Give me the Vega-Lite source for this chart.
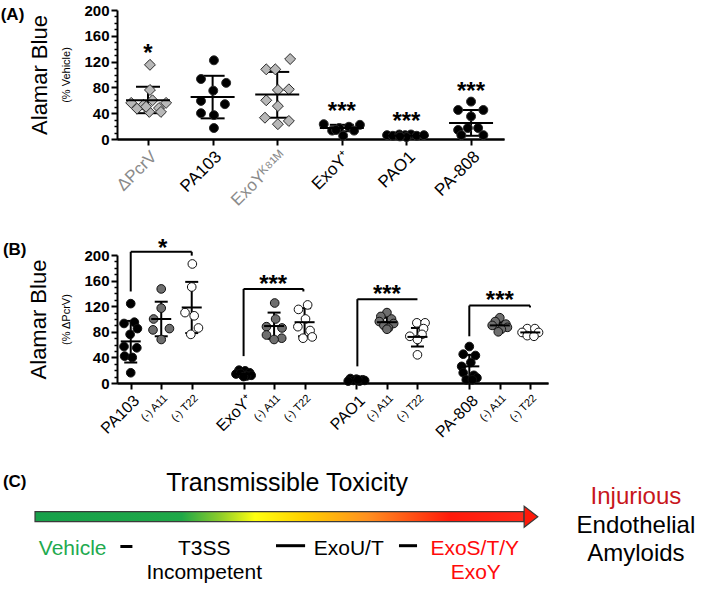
{
  "$schema": "https://vega.github.io/schema/vega-lite/v6.json",
  "background": "white",
  "padding": {"left": 0, "top": 3, "right": 0, "bottom": 0},
  "config": {
    "view": {"stroke": null},
    "font": "Liberation Sans",
    "axis": {"domainColor": "#000", "domainWidth": 2, "tickColor": "#000", "tickWidth": 2, "grid": false, "labelColor": "#000", "titleColor": "#000", "labelFont": "Liberation Sans", "titleFont": "Liberation Sans", "titleFontWeight": "normal", "labelFlush": false, "labelOverlap": false}
  },
  "bounds": "flush",
  "spacing": 116,
  "resolve": {"scale": {"fill": "independent", "shape": "independent", "size": "independent"}},
  "vconcat": [
    {
      "width": 387, "height": 129,
      "encoding": {
        "x": {"field": "x", "type": "quantitative", "scale": {"domain": [-0.48, 5.51], "nice": false, "zero": false}, "axis": null}
      },
      "layer": [
        {
          "data": {"values": [{"x": 0, "mean": 60, "lo": 40, "hi": 81}, {"x": 1, "mean": 65, "lo": 32, "hi": 98}, {"x": 2, "mean": 69, "lo": 33, "hi": 104}, {"x": 3, "mean": 17, "lo": 12, "hi": 22}, {"x": 4, "mean": 5, "lo": 4, "hi": 6}, {"x": 5, "mean": 25, "lo": 5, "hi": 45}]},
          "mark": {"type": "rule", "strokeWidth": 2, "color": "#000"},
          "encoding": {
            "x": {"field": "x", "type": "quantitative", "scale": {"domain": [-0.48, 5.51], "nice": false, "zero": false},
              "axis": {"orient": "bottom", "values": [0, 2], "labelExpr": "['ΔPcrV','PA103','ExoYᴷ⁸¹ᴹ','ExoY⁺','PAO1','PA-808'][datum.value]", "labelAngle": -45, "labelAlign": "right", "labelBaseline": "top", "labelFontSize": 17, "labelPadding": 3, "tickSize": 6, "title": null, "labelColor": "#8a8a8a"}},
            "y": {"field": "lo", "type": "quantitative", "scale": {"domain": [0, 200], "nice": false}, "axis": {"orient": "left", "title": "Alamar Blue", "labels": false, "ticks": false, "domain": false, "titleFontSize": 22, "titlePadding": 66}},
            "y2": {"field": "hi"}
          }
        },
        {
          "data": {"values": [{"x": 0, "mean": 60, "lo": 40, "hi": 81}, {"x": 1, "mean": 65, "lo": 32, "hi": 98}, {"x": 2, "mean": 69, "lo": 33, "hi": 104}, {"x": 3, "mean": 17, "lo": 12, "hi": 22}, {"x": 4, "mean": 5, "lo": 4, "hi": 6}, {"x": 5, "mean": 25, "lo": 5, "hi": 45}]},
          "transform": [{"fold": ["lo", "hi"], "as": ["k", "v"]}],
          "mark": {"type": "tick", "orient": "horizontal", "size": 24, "thickness": 2, "color": "#000", "opacity": 1},
          "encoding": {
            "y": {"field": "v", "type": "quantitative", "scale": {"domain": [0, 200], "nice": false}, "axis": {"orient": "left", "values": [10, 20, 30, 50, 60, 70, 90, 100, 110, 130, 140, 150, 170, 180, 190], "labels": false, "domain": false, "tickSize": 3, "tickWidth": 1.5, "title": null}}
          }
        },
        {
          "data": {"values": [
            {"x": 0.03, "y": 115, "kind": "diamond"}, {"x": 0.03, "y": 76, "kind": "diamond"}, {"x": 0.07, "y": 60, "kind": "diamond"}, {"x": -0.26, "y": 56, "kind": "diamond"}, {"x": -0.07, "y": 53, "kind": "diamond"}, {"x": 0.28, "y": 56, "kind": "diamond"}, {"x": -0.17, "y": 47, "kind": "diamond"}, {"x": 0.17, "y": 48, "kind": "diamond"}, {"x": 0.02, "y": 42, "kind": "diamond"}, {"x": 0.2, "y": 42, "kind": "diamond"}, {"x": -0.03, "y": 50, "kind": "diamond"},
            {"x": 1.02, "y": 122, "kind": "solid"}, {"x": 0.82, "y": 93, "kind": "solid"}, {"x": 1.21, "y": 87, "kind": "solid"}, {"x": 1.01, "y": 75, "kind": "solid"}, {"x": 0.82, "y": 59, "kind": "solid"}, {"x": 1.19, "y": 54, "kind": "solid"}, {"x": 0.82, "y": 40, "kind": "solid"}, {"x": 1.02, "y": 37, "kind": "solid"}, {"x": 1.02, "y": 17, "kind": "solid"},
            {"x": 2.2, "y": 124, "kind": "diamond"}, {"x": 1.83, "y": 108, "kind": "diamond"}, {"x": 1.97, "y": 108, "kind": "diamond"}, {"x": 2.01, "y": 76, "kind": "diamond"}, {"x": 2.18, "y": 77, "kind": "diamond"}, {"x": 1.83, "y": 60, "kind": "diamond"}, {"x": 2.01, "y": 51, "kind": "diamond"}, {"x": 1.81, "y": 33, "kind": "diamond"}, {"x": 2.01, "y": 23, "kind": "diamond"}, {"x": 2.18, "y": 28, "kind": "diamond"},
            {"x": 2.72, "y": 23, "kind": "solid"}, {"x": 3.28, "y": 22, "kind": "solid"}, {"x": 2.85, "y": 13, "kind": "solid"}, {"x": 2.96, "y": 17, "kind": "solid"}, {"x": 3.11, "y": 19, "kind": "solid"}, {"x": 3.19, "y": 13, "kind": "solid"}, {"x": 3.02, "y": 5, "kind": "solid"}, {"x": 2.91, "y": 14, "kind": "solid"},
            {"x": 3.7, "y": 6, "kind": "solid"}, {"x": 3.79, "y": 5, "kind": "solid"}, {"x": 3.89, "y": 7, "kind": "solid"}, {"x": 3.98, "y": 6, "kind": "solid"}, {"x": 4.07, "y": 7, "kind": "solid"}, {"x": 4.16, "y": 5, "kind": "solid"}, {"x": 4.27, "y": 6, "kind": "solid"}, {"x": 4.0, "y": 3, "kind": "solid"}, {"x": 3.9, "y": 4, "kind": "solid"},
            {"x": 5.0, "y": 58, "kind": "solid"}, {"x": 4.8, "y": 45, "kind": "solid"}, {"x": 5.19, "y": 45, "kind": "solid"}, {"x": 5.0, "y": 35, "kind": "solid"}, {"x": 4.8, "y": 14, "kind": "solid"}, {"x": 4.95, "y": 17, "kind": "solid"}, {"x": 5.11, "y": 17, "kind": "solid"}, {"x": 5.19, "y": 6, "kind": "solid"}, {"x": 4.85, "y": 6, "kind": "solid"}
          ]},
          "mark": {"type": "point", "filled": true, "stroke": "#2a2a2a", "strokeWidth": 1, "opacity": 1},
          "encoding": {
            "x": {"field": "x", "type": "quantitative", "scale": {"domain": [-0.48, 5.51], "nice": false, "zero": false},
              "axis": {"orient": "bottom", "values": [1, 3, 4, 5], "labelExpr": "['ΔPcrV','PA103','ExoYᴷ⁸¹ᴹ','ExoY⁺','PAO1','PA-808'][datum.value]", "labelAngle": -45, "labelAlign": "right", "labelBaseline": "top", "labelFontSize": 17, "labelPadding": 3, "tickSize": 6, "title": null}},
            "y": {"field": "y", "type": "quantitative", "scale": {"domain": [0, 200], "nice": false}, "axis": {"orient": "left", "values": [0, 40, 80, 120, 160, 200], "title": "(% Vehicle)", "titleFontSize": 11, "titlePadding": 12, "labelFontSize": 15, "labelFontWeight": "bold", "tickSize": 6, "labelPadding": 2}},
            "fill": {"field": "kind", "type": "nominal", "scale": {"domain": ["diamond", "solid"], "range": ["#b8b8b8", "#000000"]}, "legend": null},
            "shape": {"field": "kind", "type": "nominal", "scale": {"domain": ["diamond", "solid"], "range": ["diamond", "circle"]}, "legend": null},
            "size": {"field": "kind", "type": "nominal", "scale": {"domain": ["diamond", "solid"], "range": [120, 80]}, "legend": null}
          }
        },
        {
          "data": {"values": [{"x": 0, "mean": 60}, {"x": 1, "mean": 65}, {"x": 2, "mean": 69}, {"x": 3, "mean": 17}, {"x": 4, "mean": 5}, {"x": 5, "mean": 25}]},
          "mark": {"type": "tick", "orient": "horizontal", "size": 44, "thickness": 2, "color": "#000", "opacity": 1},
          "encoding": {"y": {"field": "mean", "type": "quantitative", "scale": {"domain": [0, 200], "nice": false}, "axis": null}}
        },
        {
          "data": {"values": [{"x": 0, "y": 143, "s": "*"}, {"x": 3, "y": 53, "s": "***"}, {"x": 4, "y": 37, "s": "***"}, {"x": 5, "y": 84, "s": "***"}]},
          "mark": {"type": "text", "fontSize": 24, "fontWeight": "bold", "baseline": "alphabetic", "dy": 14, "color": "#000"},
          "encoding": {"y": {"field": "y", "type": "quantitative", "scale": {"domain": [0, 200], "nice": false}, "axis": null}, "text": {"field": "s"}}
        },
        {
          "data": {"values": [{"x": -2.28, "y": 192, "s": "(A)"}]},
          "mark": {"type": "text", "fontSize": 17, "fontWeight": "bold", "align": "left", "baseline": "middle", "color": "#000"},
          "encoding": {"y": {"field": "y", "type": "quantitative", "scale": {"domain": [0, 200], "nice": false}, "axis": null}, "text": {"field": "s"}}
        }
      ],
      "resolve": {"axis": {"x": "independent", "y": "independent"}}
    },
    {
      "width": 431, "height": 128,
      "encoding": {
        "x": {"field": "x", "type": "quantitative", "scale": {"domain": [-0.45, 13.68], "nice": false, "zero": false}, "axis": null}
      },
      "layer": [
        {
          "data": {"values": [{"x": 0, "lo": 32, "hi": 97}, {"x": 1, "lo": 73, "hi": 127}, {"x": 2, "lo": 78, "hi": 158}, {"x": 3.7, "lo": 10, "hi": 18}, {"x": 4.7, "lo": 69, "hi": 110}, {"x": 5.7, "lo": 73, "hi": 117}, {"x": 7.4, "lo": 3, "hi": 6}, {"x": 8.4, "lo": 88, "hi": 102}, {"x": 9.4, "lo": 57, "hi": 86}, {"x": 11.1, "lo": 8, "hi": 44}, {"x": 12.1, "lo": 85, "hi": 95}, {"x": 13.1, "lo": 76, "hi": 82}]},
          "mark": {"type": "rule", "strokeWidth": 2, "color": "#000"},
          "encoding": {
            "x": {"field": "x", "type": "quantitative", "scale": {"domain": [-0.45, 13.68], "nice": false, "zero": false},
              "axis": {"orient": "bottom", "values": [1, 2, 4.7, 5.7, 8.4, 9.4, 12.1, 13.1], "labelExpr": "indexof([1, 4.7, 8.4, 12.1], datum.value) >= 0 ? '(-) A11' : '(-) T22'", "labelAngle": -45, "labelAlign": "right", "labelBaseline": "top", "labelFontSize": 11, "labelPadding": 3, "tickSize": 6, "title": null}},
            "y": {"field": "lo", "type": "quantitative", "scale": {"domain": [0, 200], "nice": false}, "axis": {"orient": "left", "title": "Alamar Blue", "labels": false, "ticks": false, "domain": false, "titleFontSize": 22, "titlePadding": 67}},
            "y2": {"field": "hi"}
          }
        },
        {
          "data": {"values": [{"x": 0, "lo": 32, "hi": 97}, {"x": 1, "lo": 73, "hi": 127}, {"x": 2, "lo": 78, "hi": 158}, {"x": 3.7, "lo": 10, "hi": 18}, {"x": 4.7, "lo": 69, "hi": 110}, {"x": 5.7, "lo": 73, "hi": 117}, {"x": 7.4, "lo": 3, "hi": 6}, {"x": 8.4, "lo": 88, "hi": 102}, {"x": 9.4, "lo": 57, "hi": 86}, {"x": 11.1, "lo": 8, "hi": 44}, {"x": 12.1, "lo": 85, "hi": 95}, {"x": 13.1, "lo": 76, "hi": 82}]},
          "transform": [{"fold": ["lo", "hi"], "as": ["k", "v"]}],
          "mark": {"type": "tick", "orient": "horizontal", "size": 13, "thickness": 2, "color": "#000", "opacity": 1},
          "encoding": {
            "y": {"field": "v", "type": "quantitative", "scale": {"domain": [0, 200], "nice": false}, "axis": {"orient": "left", "values": [10, 20, 30, 50, 60, 70, 90, 100, 110, 130, 140, 150, 170, 180, 190], "labels": false, "domain": false, "tickSize": 3, "tickWidth": 1.5, "title": null}}
          }
        },
        {
          "data": {"values": [
            {"x": 0, "y": 124, "kind": "solid"}, {"x": -0.22, "y": 93, "kind": "solid"}, {"x": 0.12, "y": 95, "kind": "solid"}, {"x": 0.22, "y": 85, "kind": "solid"}, {"x": -0.02, "y": 76, "kind": "solid"}, {"x": -0.22, "y": 57, "kind": "solid"}, {"x": 0.2, "y": 55, "kind": "solid"}, {"x": -0.2, "y": 42, "kind": "solid"}, {"x": 0.05, "y": 40, "kind": "solid"}, {"x": 0, "y": 16, "kind": "solid"},
            {"x": 1, "y": 147, "kind": "grey"}, {"x": 1, "y": 117, "kind": "grey"}, {"x": 0.75, "y": 100, "kind": "grey"}, {"x": 1.27, "y": 85, "kind": "grey"}, {"x": 0.73, "y": 83, "kind": "grey"}, {"x": 1, "y": 68, "kind": "grey"},
            {"x": 2.02, "y": 186, "kind": "open"}, {"x": 2, "y": 150, "kind": "open"}, {"x": 1.78, "y": 110, "kind": "open"}, {"x": 2.08, "y": 105, "kind": "open"}, {"x": 2.22, "y": 86, "kind": "open"}, {"x": 1.97, "y": 76, "kind": "open"},
            {"x": 3.55, "y": 20, "kind": "solid"}, {"x": 3.75, "y": 19, "kind": "solid"}, {"x": 3.9, "y": 16, "kind": "solid"}, {"x": 3.45, "y": 14, "kind": "solid"}, {"x": 3.95, "y": 12, "kind": "solid"}, {"x": 3.65, "y": 13, "kind": "solid"}, {"x": 3.8, "y": 11, "kind": "solid"}, {"x": 3.6, "y": 15, "kind": "solid"}, {"x": 3.7, "y": 10, "kind": "solid"},
            {"x": 4.72, "y": 125, "kind": "grey"}, {"x": 4.75, "y": 100, "kind": "grey"}, {"x": 4.45, "y": 88, "kind": "grey"}, {"x": 4.96, "y": 86, "kind": "grey"}, {"x": 4.45, "y": 75, "kind": "grey"}, {"x": 4.95, "y": 70, "kind": "grey"}, {"x": 4.7, "y": 68, "kind": "grey"},
            {"x": 5.8, "y": 122, "kind": "open"}, {"x": 5.5, "y": 115, "kind": "open"}, {"x": 5.73, "y": 100, "kind": "open"}, {"x": 5.48, "y": 88, "kind": "open"}, {"x": 5.88, "y": 82, "kind": "open"}, {"x": 5.95, "y": 72, "kind": "open"}, {"x": 5.65, "y": 70, "kind": "open"},
            {"x": 7.2, "y": 7, "kind": "solid"}, {"x": 7.4, "y": 6, "kind": "solid"}, {"x": 7.6, "y": 5, "kind": "solid"}, {"x": 7.3, "y": 4, "kind": "solid"}, {"x": 7.5, "y": 3, "kind": "solid"}, {"x": 7.67, "y": 4, "kind": "solid"}, {"x": 7.13, "y": 3, "kind": "solid"}, {"x": 7.45, "y": 5, "kind": "solid"},
            {"x": 8.4, "y": 110, "kind": "grey"}, {"x": 8.2, "y": 104, "kind": "grey"}, {"x": 8.55, "y": 100, "kind": "grey"}, {"x": 8.15, "y": 96, "kind": "grey"}, {"x": 8.62, "y": 93, "kind": "grey"}, {"x": 8.3, "y": 90, "kind": "grey"}, {"x": 8.45, "y": 86, "kind": "grey"}, {"x": 8.4, "y": 84, "kind": "grey"},
            {"x": 9.38, "y": 94, "kind": "open"}, {"x": 9.65, "y": 94, "kind": "open"}, {"x": 9.6, "y": 85, "kind": "open"}, {"x": 9.15, "y": 73, "kind": "open"}, {"x": 9.55, "y": 76, "kind": "open"}, {"x": 9.4, "y": 68, "kind": "open"}, {"x": 9.4, "y": 44, "kind": "open"},
            {"x": 11.1, "y": 57, "kind": "solid"}, {"x": 10.9, "y": 45, "kind": "solid"}, {"x": 11.3, "y": 43, "kind": "solid"}, {"x": 11.15, "y": 32, "kind": "solid"}, {"x": 10.85, "y": 26, "kind": "solid"}, {"x": 10.9, "y": 16, "kind": "solid"}, {"x": 11.25, "y": 12, "kind": "solid"}, {"x": 11.35, "y": 8, "kind": "solid"}, {"x": 11.0, "y": 5, "kind": "solid"}, {"x": 11.2, "y": 5, "kind": "solid"},
            {"x": 12.1, "y": 102, "kind": "grey"}, {"x": 11.95, "y": 96, "kind": "grey"}, {"x": 12.3, "y": 92, "kind": "grey"}, {"x": 11.85, "y": 90, "kind": "grey"}, {"x": 12.35, "y": 87, "kind": "grey"}, {"x": 12.15, "y": 84, "kind": "grey"}, {"x": 12.05, "y": 80, "kind": "grey"},
            {"x": 13.0, "y": 85, "kind": "open"}, {"x": 13.25, "y": 85, "kind": "open"}, {"x": 12.83, "y": 79, "kind": "open"}, {"x": 13.37, "y": 79, "kind": "open"}, {"x": 13.0, "y": 74, "kind": "open"}, {"x": 13.22, "y": 73, "kind": "open"}
          ]},
          "mark": {"type": "point", "filled": true, "stroke": "#111", "strokeWidth": 1, "opacity": 1, "size": 75, "shape": "circle"},
          "encoding": {
            "x": {"field": "x", "type": "quantitative", "scale": {"domain": [-0.45, 13.68], "nice": false, "zero": false},
              "axis": {"orient": "bottom", "values": [0, 3.7, 7.4, 11.1], "labelExpr": "datum.value == 0 ? 'PA103' : datum.value == 3.7 ? 'ExoY⁺' : datum.value == 7.4 ? 'PAO1' : 'PA-808'", "labelAngle": -45, "labelAlign": "right", "labelBaseline": "top", "labelFontSize": 16, "labelPadding": 3, "tickSize": 6, "title": null}},
            "y": {"field": "y", "type": "quantitative", "scale": {"domain": [0, 200], "nice": false}, "axis": {"orient": "left", "values": [0, 40, 80, 120, 160, 200], "title": "(% ΔPcrV)", "titleFontSize": 11, "titlePadding": 12, "labelFontSize": 15, "labelFontWeight": "bold", "tickSize": 6, "labelPadding": 2}},
            "fill": {"field": "kind", "type": "nominal", "scale": {"domain": ["solid", "grey", "open"], "range": ["#000000", "#6e6e6e", "#ffffff"]}, "legend": null}
          }
        },
        {
          "data": {"values": [{"x": 0, "mean": 65}, {"x": 1, "mean": 100}, {"x": 2, "mean": 118}, {"x": 3.7, "mean": 14}, {"x": 4.7, "mean": 89}, {"x": 5.7, "mean": 95}, {"x": 7.4, "mean": 4}, {"x": 8.4, "mean": 95}, {"x": 9.4, "mean": 72}, {"x": 11.1, "mean": 26}, {"x": 12.1, "mean": 90}, {"x": 13.1, "mean": 79}]},
          "mark": {"type": "tick", "orient": "horizontal", "size": 20, "thickness": 2, "color": "#000", "opacity": 1},
          "encoding": {"y": {"field": "mean", "type": "quantitative", "scale": {"domain": [0, 200], "nice": false}, "axis": null}}
        },
        {
          "data": {"values": [
            {"x": 0, "xe": 0, "y": 143, "ye": 205}, {"x": 0, "xe": 2, "y": 205, "ye": 205}, {"x": 2, "xe": 2, "y": 205, "ye": 199},
            {"x": 3.7, "xe": 3.7, "y": 42, "ye": 147}, {"x": 3.7, "xe": 5.66, "y": 147, "ye": 147}, {"x": 5.66, "xe": 5.66, "y": 147, "ye": 143},
            {"x": 7.43, "xe": 7.43, "y": 26, "ye": 131}, {"x": 7.43, "xe": 9.4, "y": 131, "ye": 131},
            {"x": 11.1, "xe": 11.1, "y": 73, "ye": 121}, {"x": 11.1, "xe": 13.09, "y": 121, "ye": 121}, {"x": 13.09, "xe": 13.09, "y": 121, "ye": 118}
          ]},
          "mark": {"type": "rule", "strokeWidth": 2, "color": "#000"},
          "encoding": {"x2": {"field": "xe"}, "y": {"field": "y", "type": "quantitative", "scale": {"domain": [0, 200], "nice": false}, "axis": null}, "y2": {"field": "ye"}}
        },
        {
          "data": {"values": [{"x": 1.05, "y": 220, "s": "*"}, {"x": 4.67, "y": 164, "s": "***"}, {"x": 8.4, "y": 148, "s": "***"}, {"x": 12.1, "y": 139, "s": "***"}]},
          "mark": {"type": "text", "fontSize": 24, "fontWeight": "bold", "baseline": "alphabetic", "dy": 14, "color": "#000"},
          "encoding": {"y": {"field": "y", "type": "quantitative", "scale": {"domain": [0, 200], "nice": false}, "axis": null}, "text": {"field": "s"}}
        },
        {
          "data": {"values": [{"x": -4.19, "y": 208, "s": "(B)"}]},
          "mark": {"type": "text", "fontSize": 17, "fontWeight": "bold", "align": "left", "baseline": "middle", "color": "#000"},
          "encoding": {"y": {"field": "y", "type": "quantitative", "scale": {"domain": [0, 200], "nice": false}, "axis": null}, "text": {"field": "s"}}
        }
      ],
      "resolve": {"axis": {"x": "independent", "y": "independent"}}
    },
    {
      "width": 593, "height": 92,
      "encoding": {
        "x": {"field": "pos", "type": "quantitative", "scale": {"domain": [16.33, 134.46], "nice": false, "zero": false}, "axis": null},
        "y": {"field": "lvl", "type": "quantitative", "scale": {"domain": [29, 121], "nice": false, "zero": false, "reverse": true}, "axis": null}
      },
      "layer": [
        {
          "data": {"values": [{"pos": 0, "end": 97.4, "lvl": 41.7, "lvl2": 51.7}]},
          "mark": {"type": "rect", "stroke": "#3a3a3a", "strokeWidth": 1.2, "fill": {"gradient": "linear", "x1": 0, "y1": 0, "x2": 1, "y2": 0, "stops": [{"offset": 0, "color": "#17a04a"}, {"offset": 0.3, "color": "#1fa848"}, {"offset": 0.38, "color": "#8fcd2a"}, {"offset": 0.45, "color": "#ffff10"}, {"offset": 0.55, "color": "#ffd000"}, {"offset": 0.68, "color": "#ff9020"}, {"offset": 0.85, "color": "#ff1a0a"}, {"offset": 1, "color": "#ff2a1a"}]}},
          "encoding": {"x2": {"field": "end"}, "y2": {"field": "lvl2"}}
        },
        {
          "data": {"values": [{"pos": 98.8, "lvl": 46.7}]},
          "mark": {"type": "point", "shape": "M-0.65,-1L0.65,0L-0.65,1Z", "size": 441, "filled": true, "fill": "#ff1a0a", "stroke": "#3a3a3a", "strokeWidth": 1.2, "opacity": 1}
        },
        {
          "data": {"values": [{"pos": 17.0, "end": 19.4, "lvl": 76.5}, {"pos": 48.0, "end": 53.8, "lvl": 75.7}, {"pos": 72.5, "end": 76.1, "lvl": 75.7}]},
          "mark": {"type": "rule", "strokeWidth": 3, "color": "#000"},
          "encoding": {"x2": {"field": "end"}}
        },
        {
          "data": {"values": [{"pos": -6.4, "lvl": 11.7, "t": "(C)"}]},
          "mark": {"type": "text", "align": "left", "baseline": "middle", "fontSize": 17, "fontWeight": "bold", "color": "#000"},
          "encoding": {"text": {"field": "t"}}
        },
        {
          "data": {"values": [{"pos": 50.2, "lvl": 13.3, "t": "Transmissible Toxicity"}]},
          "mark": {"type": "text", "align": "center", "baseline": "middle", "fontSize": 25, "color": "#000"},
          "encoding": {"text": {"field": "t"}}
        },
        {
          "data": {"values": [{"pos": 119.7, "lvl": 27, "t": "Injurious"}]},
          "mark": {"type": "text", "align": "center", "baseline": "middle", "fontSize": 24, "color": "#c8161c"},
          "encoding": {"text": {"field": "t"}}
        },
        {
          "data": {"values": [{"pos": 119.7, "lvl": 56, "t": "Endothelial"}, {"pos": 119.7, "lvl": 84, "t": "Amyloids"}]},
          "mark": {"type": "text", "align": "center", "baseline": "middle", "fontSize": 24, "color": "#000"},
          "encoding": {"text": {"field": "t"}}
        },
        {
          "data": {"values": [{"pos": 7.5, "lvl": 79, "t": "Vehicle"}]},
          "mark": {"type": "text", "align": "center", "baseline": "middle", "fontSize": 21, "color": "#1faa50"},
          "encoding": {"text": {"field": "t"}}
        },
        {
          "data": {"values": [{"pos": 33.7, "lvl": 78.5, "t": "T3SS"}, {"pos": 33.7, "lvl": 103, "t": "Incompetent"}, {"pos": 62.5, "lvl": 78.5, "t": "ExoU/T"}]},
          "mark": {"type": "text", "align": "center", "baseline": "middle", "fontSize": 21, "color": "#000"},
          "encoding": {"text": {"field": "t"}}
        },
        {
          "data": {"values": [{"pos": 87.6, "lvl": 78.5, "t": "ExoS/T/Y"}, {"pos": 87.8, "lvl": 103, "t": "ExoY"}]},
          "mark": {"type": "text", "align": "center", "baseline": "middle", "fontSize": 21, "color": "#ff0a0a"},
          "encoding": {"text": {"field": "t"}}
        }
      ]
    }
  ]
}
